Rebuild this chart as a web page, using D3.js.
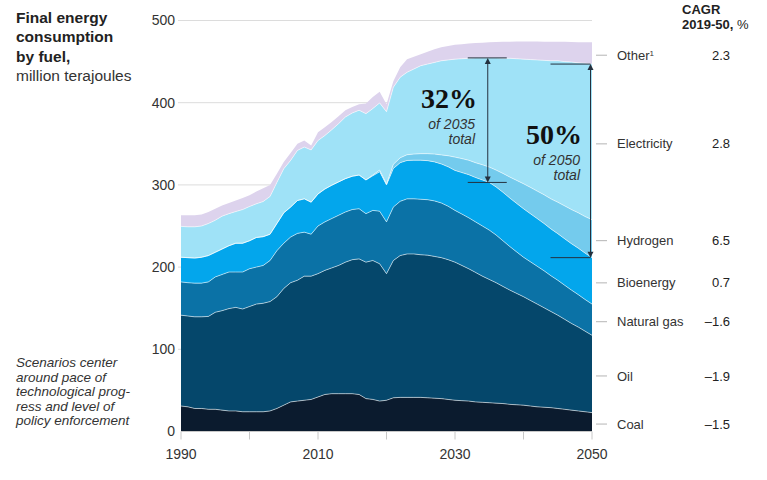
<!DOCTYPE html>
<html>
<head>
<meta charset="utf-8">
<script src="https://cdn.jsdelivr.net/npm/d3@7"></script>
<style>
  body { margin: 0; background: #fff; }
  text { font-family: "Liberation Sans", Arial, sans-serif; fill: #222; }
  text.share { font-family: "Liberation Serif", "DejaVu Serif", "Times New Roman", serif; }
</style>
</head>
<body>
<div id="chart"></div>
<script>
const years = d3.range(1990, 2051)
const fuels = ["Coal", "Oil", "Natural gas", "Bioenergy", "Hydrogen", "Electricity", "Other"]
const cagr = ["–1.5", "–1.9", "–1.6", "0.7", "6.5", "2.8", "2.3"]
const yTicks = [0, 100, 200, 300, 400, 500]
const xTickLabels = [1990, 2010, 2030, 2050]

// million terajoules, 1990..2050
const coal = [31, 30, 28, 28, 27, 27, 26, 25, 25, 24,
  24, 24, 24, 25, 28, 32, 36, 37, 38, 39,
  42, 45, 46, 46, 46, 46, 45, 40, 39, 37,
  38, 41, 41.5, 41.5, 41.5, 41.5, 41, 40.5, 40, 39,
  38, 37.5, 37, 36, 35.5, 35, 34.5, 34, 33, 32.5,
  32, 31, 30, 29.5, 29, 28, 27, 26, 25, 24,
  23]
const oil = [110.5, 110.5, 111.5, 111.5, 113, 118, 121, 124.5, 126, 125,
  128, 131, 132, 133, 136, 142, 145, 147, 151, 150,
  150, 151, 153, 156, 160, 163, 165, 166, 169, 167,
  154, 167, 172.5, 174.5, 174.5, 173.5, 173.5, 172.5, 171.5, 170,
  168, 164.5, 161, 157.5, 153.5, 150, 146.5, 142.5, 139, 135.5,
  132, 128.5, 125, 121, 117, 113.5, 109.5, 105.5, 102, 98,
  94]
const gas = [40.5, 40.5, 41, 41, 42, 43, 44, 44.5, 43, 45,
  46, 45, 46, 50, 56, 55, 55.5, 57, 53.5, 51,
  58, 59, 60, 61, 61, 61, 61, 59, 61, 64,
  63, 65, 66, 67, 67, 67.5, 67.5, 67.5, 66.5, 65,
  63, 62.5, 62, 61.5, 61, 60, 58, 55.5, 53, 50.5,
  48, 47, 46, 45, 43.5, 42.5, 41.5, 40.5, 39.5, 38.5,
  38]
const bio = [30, 30.5, 30.5, 31.5, 32, 30, 31, 32, 35, 35,
  34, 36, 35, 32, 33, 37, 36.5, 40, 40.5, 39,
  39, 40, 40.5, 40.6, 40.6, 40.5, 41, 41, 42, 48,
  45, 47, 47, 46.7, 47, 47.5, 47.5, 47.5, 47.5, 48,
  48.6, 50.5, 52.5, 54, 56, 58, 58.5, 59, 59, 59,
  59, 58.5, 58, 57.5, 57, 56.7, 56.5, 56.5, 56.5, 56.5,
  56.5]
const hydrogen = [0, 0, 0, 0, 0, 0, 0, 0, 0, 0,
  0, 0, 0, 0, 0, 0, 0, 0, 0, 0,
  0, 0, 0, 0, 0, 0, 0, 0, 1, 2,
  1, 5, 6, 7, 7.5, 8, 8.5, 9.5, 11, 13.5,
  16.2, 17, 17.5, 18, 18.5, 18.7, 20.5, 23, 25.5, 28,
  30.4, 32, 33.5, 35, 36.5, 38.3, 40, 41.5, 43, 44.5,
  46.2]
const electricity = [37.6, 37.5, 38, 38, 39, 39, 40, 39, 38.6, 41,
  41.7, 41, 42.8, 46, 50, 53.6, 56.8, 61, 63, 63.6,
  65, 65, 67.5, 70.9, 75, 77, 78.8, 80.7, 80.8, 81.7,
  88, 93.8, 98, 100.3, 103.5, 107, 109, 111.5, 114.5, 116.5,
  119.2, 121.5, 124, 127.5, 130, 132.8, 136.5, 140, 144.5, 148,
  151.6, 155.5, 159.5, 163.5, 168, 172, 175.5, 179.5, 182.5, 186.5,
  189.3]
const other = [13.4, 14, 14, 14, 14, 14, 13, 13, 13.4, 14,
  13.8, 15, 16.2, 14, 10.6, 8.2, 8.9, 8, 8, 5.4,
  10, 10, 9.5, 8.9, 8.2, 7.3, 7.2, 12.3, 14.2, 13.6,
  9, 7.2, 12, 16, 15, 14, 15, 16, 16.5, 17,
  17.6, 17.5, 18, 18, 18.5, 18.9, 19.3, 20, 20.3, 21,
  21.6, 22, 22.4, 22.8, 23.2, 23, 24, 24.3, 25.1, 25.5,
  26.4]

const colors = ["#0b1b2e", "#05476b", "#0b72a6", "#03a6ec", "#74cbed", "#9fe2f7", "#ddd3ed"]

const svgWidth = 767
const svgHeight = 480

let svg = d3
  .select("#chart")
  .append("svg")
  .attr("width", svgWidth)
  .attr("height", svgHeight)

let x = d3.scaleLinear().domain([1990, 2050]).range([181, 592])
let y = d3.scaleLinear().domain([0, 500]).range([431.5, 20.5])

let table = years.map((yr, i) => ({
  year: yr,
  "Coal": coal[i],
  "Oil": oil[i],
  "Natural gas": gas[i],
  "Bioenergy": bio[i],
  "Hydrogen": hydrogen[i],
  "Electricity": electricity[i],
  "Other": other[i]
}))

let series = d3.stack().keys(fuels)(table)

// gridlines
svg.append("g")
  .selectAll("line")
  .data(yTicks.slice(1))
  .enter()
  .append("line")
  .attr("x1", 178)
  .attr("x2", x(2050))
  .attr("y1", d => y(d))
  .attr("y2", d => y(d))
  .attr("stroke", "#dcdcdc")
  .attr("stroke-width", 1)

svg.append("g")
  .selectAll("text")
  .data(yTicks)
  .enter()
  .append("text")
  .attr("x", 175)
  .attr("y", d => y(d))
  .attr("dy", "0.35em")
  .attr("text-anchor", "end")
  .style("font-size", "14px")
  .style("fill", "#333")
  .text(d => d)

// stacked areas
let area = d3.area()
  .x(d => x(d.data.year))
  .y0(d => y(d[0]))
  .y1(d => y(d[1]))

svg.append("g")
  .selectAll("path")
  .data(series)
  .enter()
  .append("path")
  .attr("d", area)
  .attr("fill", (d, i) => colors[i])

let topLine = d3.line()
  .x(d => x(d.data.year))
  .y(d => y(d[1]))

svg.append("g")
  .selectAll("path")
  .data(series.slice(0, series.length - 1))
  .enter()
  .append("path")
  .attr("d", topLine)
  .attr("fill", "none")
  .attr("stroke", "#fff")
  .attr("stroke-opacity", 0.55)
  .attr("stroke-width", 1)

// x axis
svg.append("line")
  .attr("x1", x(1990))
  .attr("x2", x(2050))
  .attr("y1", y(0))
  .attr("y2", y(0))
  .attr("stroke", "#c8c8c8")

svg.append("g")
  .selectAll("line")
  .data(d3.range(1990, 2051, 10))
  .enter()
  .append("line")
  .attr("x1", d => x(d))
  .attr("x2", d => x(d))
  .attr("y1", y(0))
  .attr("y2", y(0) + 8)
  .attr("stroke", "#c8c8c8")

svg.append("g")
  .selectAll("text")
  .data(xTickLabels)
  .enter()
  .append("text")
  .attr("x", d => x(d))
  .attr("y", 459)
  .attr("text-anchor", "middle")
  .style("font-size", "14px")
  .style("fill", "#333")
  .text(d => d)

// legend at the 2050 midpoint of each band
let last = years.length - 1
let legend = svg.append("g")
  .selectAll("g")
  .data(series)
  .enter()
  .append("g")
  .attr("transform", d => `translate(0, ${y((d[last][0] + d[last][1]) / 2) + 2})`)

legend.append("line")
  .attr("x1", 596)
  .attr("x2", 607)
  .attr("stroke", "#b5b5b5")

let legendText = legend.append("text")
  .attr("x", 617)
  .attr("dy", "0.35em")
  .style("font-size", "13px")
  .style("fill", "#333")
  .text(d => d.key)

legendText.filter(d => d.key === "Other")
  .append("tspan")
  .attr("dy", "-0.45em")
  .style("font-size", "8px")
  .text("1")

legend.append("text")
  .attr("x", 730)
  .attr("dy", "0.35em")
  .attr("text-anchor", "end")
  .style("font-size", "13px")
  .style("fill", "#222")
  .text((d, i) => cagr[i])

svg.append("text")
  .attr("x", 682)
  .attr("y", 14)
  .style("font-size", "13px")
  .style("font-weight", "bold")
  .text("CAGR")

let cagrSub = svg.append("text")
  .attr("x", 682)
  .attr("y", 29)
  .style("font-size", "13px")
cagrSub.append("tspan").style("font-weight", "bold").text("2019-50,")
cagrSub.append("tspan").text(" %")

// title
let title = svg.append("text")
  .attr("x", 16)
  .attr("y", 23)
  .style("font-size", "15.5px")
;["Final energy", "consumption", "by fuel,"].forEach((t, i) => {
  title.append("tspan")
    .attr("x", 16)
    .attr("dy", i === 0 ? 0 : 19.3)
    .style("font-weight", "bold")
    .text(t)
})
title.append("tspan")
  .attr("x", 16)
  .attr("dy", 19.3)
  .style("fill", "#333")
  .text("million terajoules")

// note
let note = svg.append("text")
  .attr("x", 16)
  .attr("y", 367)
  .style("font-size", "13.5px")
  .style("font-style", "italic")
  .style("fill", "#333")
;["Scenarios center", "around pace of", "technological prog-", "ress and level of", "policy enforcement"].forEach((t, i) => {
  note.append("tspan")
    .attr("x", 16)
    .attr("dy", i === 0 ? 0 : 14.6)
    .text(t)
})

// share annotations: electricity + hydrogen as share of total
function span(year, capLeft, capRight, share, labelRight, labelTop) {
  let i = years.indexOf(year)
  let top = y(series[5][i][1])
  let bottom = y(series[3][i][1])
  let ax = x(year) - 1.5
  let g = svg.append("g")
  let ink = "#24313f"

  g.append("line").attr("x1", ax).attr("x2", ax).attr("y1", top + 5).attr("y2", bottom - 5)
    .attr("stroke", ink)
  ;[top, bottom].forEach(v => {
    g.append("line").attr("x1", ax + capLeft).attr("x2", ax + capRight).attr("y1", v).attr("y2", v)
      .attr("stroke", ink)
  })
  g.append("path").attr("d", `M${ax},${top} l-3,6 l6,0 z`).attr("fill", ink)
  g.append("path").attr("d", `M${ax},${bottom} l-3,-6 l6,0 z`).attr("fill", ink)

  g.append("text")
    .attr("class", "share")
    .attr("x", labelRight)
    .attr("y", labelTop)
    .attr("text-anchor", "end")
    .style("font-size", "28px")
    .style("font-weight", "bold")
    .style("fill", "#111")
    .text(share)

  let sub = g.append("text")
    .attr("x", labelRight - 2)
    .attr("y", labelTop + 21)
    .attr("text-anchor", "end")
    .style("font-size", "14px")
    .style("font-style", "italic")
    .style("fill", "#333")
  sub.append("tspan").attr("x", labelRight - 2).text(`of ${year}`)
  sub.append("tspan").attr("x", labelRight - 2).attr("dy", 15).text("total")
}

span(2035, -20, 19, "32%", 477, 108)
span(2050, -40, 0, "50%", 582, 144)
</script>
</body>
</html>
